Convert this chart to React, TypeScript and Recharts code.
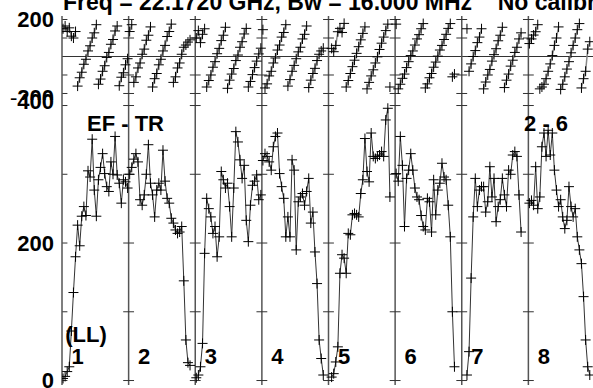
import React from 'react';
import { ComposedChart, Line, XAxis, YAxis, ReferenceLine, ReferenceDot } from 'recharts';

const FONT = '"Liberation Sans", Arial, Helvetica, sans-serif';

const CHANNELS = 32;
const panelNumbers = ['1', '2', '3', '4', '5', '6', '7', '8'];
const channelTicks = [10, 20, 30];
const ampTickLabels = [0, 200, 400];
const ampTickMarks = [0, 100, 200, 300, 400];
const phaseTickLabels = [-200, 200];
const phaseTickMarks = [-200, -100, 100, 200];
const titleText = 'Freq = 22.1720 GHz, Bw = 16.000 MHz    No calibration applied';
const baselineLabel = 'EF - TR';
const ifRangeLabel = '2 - 6';
const polLabel = '(LL)';

// Amplitude per IF panel (channels 1..32)
const amp1 = [3, 6, 13, 20, 72, 128, 180, 226, 196, 239, 253, 240, 305, 296, 351, 277, 239, 292, 310, 330, 301, 282, 275, 318, 300, 355, 299, 287, 258, 292, 289, 280];
const amp2 = [300, 310, 322, 330, 318, 263, 255, 270, 300, 343, 287, 270, 238, 277, 287, 277, 335, 290, 265, 258, 236, 229, 219, 214, 216, 224, 145, 59, 26, 22, null, null];
const amp3 = [4, 8, 20, 54, 185, 265, 250, 238, 214, 224, 180, 209, 304, 292, 280, 287, 253, 209, 280, 362, 347, 321, 294, 313, 233, 202, 255, 284, 290, 299, 263, 270];
const amp4 = [320, 330, 326, 318, 306, 340, 355, 360, 301, 282, 265, 209, 238, 209, 321, 306, 190, 260, 267, 272, 255, 275, 294, 229, 245, 187, 141, 59, 32, 8, null, null];
const amp5 = [null, 5, 10, 27, 49, 156, 183, 178, 156, 214, 212, 241, 243, 241, 238, 272, 292, 352, 304, 289, 360, 326, 323, 326, 328, 333, 326, 379, 396, 267, null, null];
const amp6 = [301, 290, 355, 313, 224, 294, 306, 330, 306, 280, 267, 263, 240, 224, 219, 265, 260, 216, 292, 241, 277, 287, 316, 296, 292, 255, 209, 100, 20, null, null, null];
const amp7 = [null, null, 8, 42, 149, 238, 294, 253, 277, 282, 282, 245, 260, 311, 267, 294, 231, 253, 263, 294, 270, 253, 306, 300, 328, 333, 326, 270, 216, null, null, null];
const amp8 = [258, 262, 255, 311, 250, 267, 340, 360, 326, 364, 328, 360, 306, 277, 253, 263, 238, 221, 233, 282, 253, 238, 250, 209, 190, 170, 122, 59, 20, 8, null, null];

// Phase (degrees) per IF panel
const phase1 = [150, 165, 135, 155, 110, 100, 135, -160, -115, -85, -42, -15, 30, 58, 100, 128, 172, -150, -122, -80, -50, -5, 22, 66, 92, 138, 165, -158, -112, -88, -45, -12];
const phase2 = [135, 172, -140, -110, -62, -35, 12, 40, 88, 115, 160, -165, -120, -92, -45, -15, 30, 60, 108, 135, 175, -140, -110, -62, -35, 12, 50, 62, 78, 90, null, null];
const phase3 = [100, 140, 75, 120, 150, -165, -130, -100, -58, -28, 15, 44, 86, 115, 158, -172, -128, -95, -65, -22, 8, 50, 80, 122, 152, -165, -135, -98, -60, -25, 14, 45];
const phase4 = [145, -170, -148, -105, -80, -35, -8, 35, 62, 105, 130, 172, -160, -125, -80, -48, -12, 25, 50, 95, 120, 165, -168, -128, -92, -64, -22, 12, 30, 45, null, null];
const phase5 = [null, 44, 26, 60, 134, 152, 130, 179, -165, -130, -92, -55, -20, 17, 53, 90, 125, 160, -175, -140, -105, -72, -35, -2, 38, 72, 105, 140, 175, -165, null, null];
const phase6 = [175, -175, -150, -118, -95, -60, -28, 5, 30, 62, 95, 118, 150, 178, -170, -148, -115, -92, -58, -30, 2, 35, 60, 92, 120, 152, 178, -110, -95, null, null, null];
const phase7 = [null, null, 150, -80, -40, 0, 32, 75, 105, 150, -175, -138, -100, -70, -25, 10, 42, 85, 115, 158, -168, -128, -95, -52, -20, 22, 50, 95, 128, null, null, null];
const phase8 = [70, 95, 116, 134, 172, -175, -165, -150, -120, -80, -40, 5, 60, 100, 160, -178, -150, -110, -68, -28, 20, 60, 100, 145, 178, -170, -120, -80, 40, 80, null, null];

const ampPanels = [amp1, amp2, amp3, amp4, amp5, amp6, amp7, amp8];
const phasePanels = [phase1, phase2, phase3, phase4, phase5, phase6, phase7, phase8];

const NP = ampPanels.length;
const X_DOMAIN: [number, number] = [0.5, NP * CHANNELS + 0.5];
const AMP_DOMAIN: [number, number] = [-6.5, 412.4];
const PHASE_DOMAIN: [number, number] = [-219, 219];

const xOf = (p: number, i: number) => p * CHANNELS + i + 1;

const ampData = ampPanels.map((arr, p) => arr.map((v, i) => ({ x: xOf(p, i), y: v })));
const phaseData = phasePanels.map((arr, p) => {
  const out: { x: number; y: number | null }[] = [];
  arr.forEach((v, i) => {
    const prev = i > 0 ? arr[i - 1] : null;
    if (prev != null && v != null && Math.abs(v - prev) > 180) {
      out.push({ x: xOf(p, i) - 0.5, y: null });
    }
    out.push({ x: xOf(p, i), y: v });
  });
  return out;
});

const edges = Array.from({ length: NP }, (_, p) => p * CHANNELS + 0.5);
const dividers = edges.slice(1);
const xTicks = edges.flatMap((e) => channelTicks.map((t) => e - 0.5 + t));
const TICK_HALF = 2.6;

const renderCross = (props: any) => {
  const { cx, cy, index, value } = props;
  if (cx == null || cy == null || value == null || Number.isNaN(cy)) {
    return <g key={`e-${index}`} />;
  }
  const h = 5;
  return (
    <path
      key={`c-${index}`}
      d={`M${cx - h},${cy}H${cx + h}M${cx},${cy - h}V${cy + h}`}
      stroke="#000"
      strokeWidth={1}
      fill="none"
    />
  );
};

const labelStyle = { fontSize: 22, fontWeight: 'bold', fill: '#000', fontFamily: FONT };
const FRAME = '#555';

// small vertical nudges of extreme labels, as in the reference where they overlap
const makeYTick = (nudge: Record<number, number>) => (props: any) => {
  const { x, y, payload } = props;
  const v = payload.value;
  return (
    <text x={x} y={y + (nudge[v] || 0)} dy="0.355em" textAnchor="end" fontSize={22} fontWeight="bold"
      fontFamily={FONT} fill="#000">
      {v}
    </text>
  );
};
const phaseYTick = makeYTick({ [-200]: 4 });
const ampYTick = makeYTick({ 400: -4 });

function panelTicks(values: number[], prefix: string) {
  const out: React.ReactNode[] = [];
  edges.forEach((e, k) => {
    values.forEach((v) => {
      out.push(
        <ReferenceLine
          key={`${prefix}-${k}-${v}`}
          segment={[{ x: k === 0 ? e : e - TICK_HALF, y: v }, { x: e + TICK_HALF, y: v }]}
          stroke="#333"
          strokeWidth={1}
          ifOverflow="visible"
        />
      );
    });
  });
  return out;
}

export default function App() {
  return (
    <div style={{ position: 'absolute', left: 0, top: 0, width: 593, height: 388, overflow: 'hidden', background: '#fff' }}>
      <div style={{ position: 'absolute', left: 0, top: 0 }}>
        <ComposedChart width={600} height={100} margin={{ top: 16, right: 5, bottom: 3, left: 0 }}>
          <XAxis type="number" dataKey="x" domain={X_DOMAIN} allowDataOverflow ticks={xTicks} mirror height={0}
            tickSize={5} tickFormatter={() => ''} axisLine={{ stroke: FRAME, strokeWidth: 1.5 }} tickLine={{ stroke: '#333' }} interval={0} />
          <XAxis xAxisId="top" orientation="top" type="number" domain={X_DOMAIN} allowDataOverflow ticks={xTicks} mirror height={0}
            tickSize={5} tickFormatter={() => ''} axisLine={{ stroke: FRAME, strokeWidth: 1.5 }} tickLine={{ stroke: '#333' }} interval={0} />
          <YAxis type="number" domain={PHASE_DOMAIN} allowDataOverflow ticks={phaseTickLabels} width={62} interval={0}
            tickLine={false} axisLine={{ stroke: FRAME, strokeWidth: 1.5 }} tick={phaseYTick} />
          <ReferenceLine y={0} stroke="#333" strokeWidth={1} />
          {dividers.map((d) => (
            <ReferenceLine key={`pd-${d}`} x={d} stroke={FRAME} strokeWidth={1.5} />
          ))}
          {panelTicks(phaseTickMarks, 'pt')}
          {phaseData.map((data, p) => (
            <Line key={`ph-${p}`} data={data} dataKey="y" type="linear" stroke="#888" strokeWidth={1.5}
              dot={renderCross} activeDot={false} connectNulls={false} isAnimationActive={false} />
          ))}
        </ComposedChart>
      </div>
      <div style={{ position: 'absolute', left: 0, top: 0 }}>
        <ComposedChart width={600} height={388} margin={{ top: 97, right: 5, bottom: 3, left: 0 }}>
          <XAxis type="number" dataKey="x" domain={X_DOMAIN} allowDataOverflow ticks={xTicks} mirror height={0}
            tickSize={5} tickFormatter={() => ''} axisLine={{ stroke: FRAME, strokeWidth: 1.5 }} tickLine={{ stroke: '#333' }} interval={0} />
          <XAxis xAxisId="top" orientation="top" type="number" domain={X_DOMAIN} allowDataOverflow ticks={xTicks} mirror height={0}
            tickSize={5} tickFormatter={() => ''} axisLine={{ stroke: FRAME, strokeWidth: 1.5 }} tickLine={{ stroke: '#333' }} interval={0} />
          <YAxis type="number" domain={AMP_DOMAIN} allowDataOverflow ticks={ampTickLabels} width={62} interval={0}
            tickLine={false} axisLine={{ stroke: FRAME, strokeWidth: 1.5 }} tick={ampYTick} />
          {dividers.map((d) => (
            <ReferenceLine key={`ad-${d}`} x={d} stroke={FRAME} strokeWidth={1.5} />
          ))}
          {panelTicks(ampTickMarks, 'at')}
          {ampData.map((data, p) => (
            <Line key={`am-${p}`} data={data} dataKey="y" type="linear" stroke="#333" strokeWidth={1}
              dot={renderCross} activeDot={false} connectNulls={false} isAnimationActive={false} />
          ))}
          {panelNumbers.map((n, p) => (
            <ReferenceDot key={`num-${n}`} x={p * CHANNELS + 8} y={36} r={0.01} fill="none" stroke="none"
              label={{ value: n, position: 'center', ...labelStyle }} />
          ))}
          <ReferenceDot x={12} y={68} r={0.01} fill="none" stroke="none"
            label={{ value: polLabel, position: 'center', ...labelStyle }} />
          <ReferenceDot x={31} y={374} r={0.01} fill="none" stroke="none"
            label={{ value: baselineLabel, position: 'center', ...labelStyle }} />
          <ReferenceDot x={233} y={374} r={0.01} fill="none" stroke="none"
            label={{ value: ifRangeLabel, position: 'center', ...labelStyle }} />
        </ComposedChart>
      </div>
      <svg width={593} height={20} style={{ position: 'absolute', left: 0, top: 0 }}>
        <text x={63} y={10} xmlSpace="preserve" fontFamily={FONT} fontWeight="bold" fontSize={23} fill="#000">
          {titleText}
        </text>
      </svg>
    </div>
  );
}
